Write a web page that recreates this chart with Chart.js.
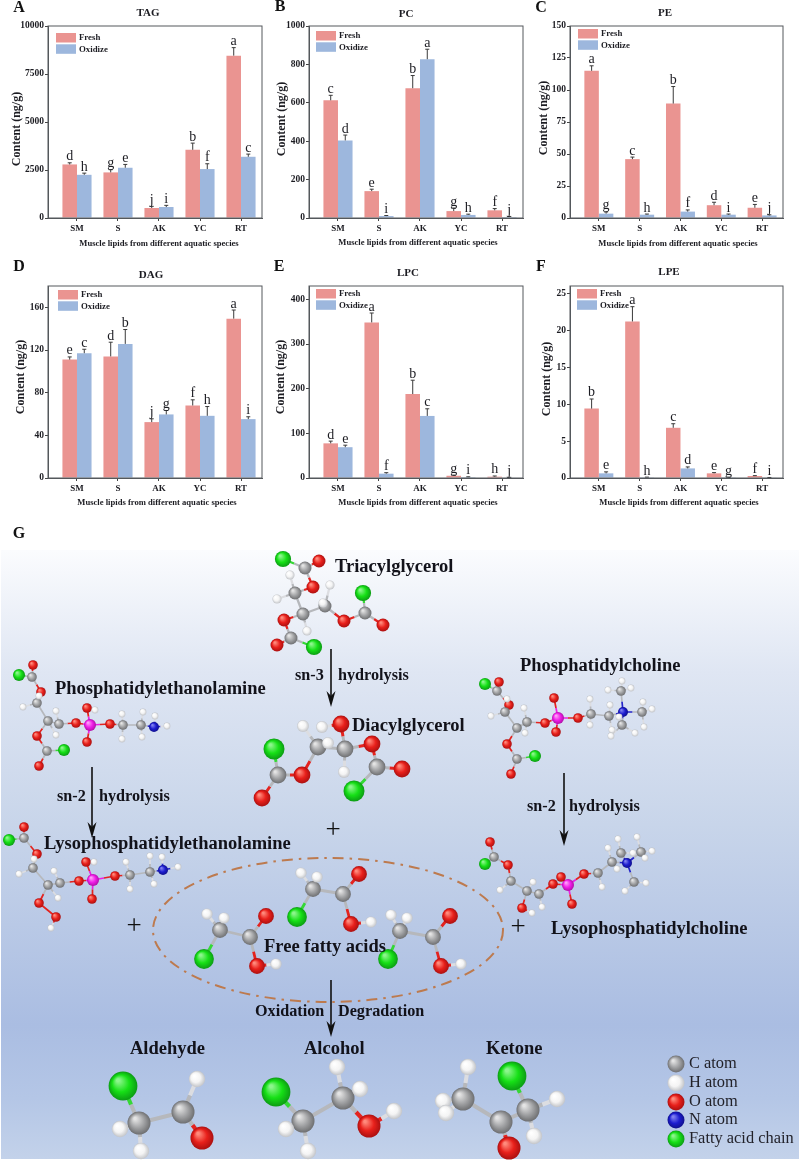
<!DOCTYPE html>
<html>
<head>
<meta charset="utf-8">
<title>Lipids</title>
<script src="https://cdn.jsdelivr.net/npm/chart.js@4/dist/chart.umd.js"></script>
<style>
  html, body { margin: 0; padding: 0; background: #fff; }
  #page { position: relative; width: 800px; height: 1161px; overflow: hidden; }
  canvas { position: absolute; }
  #schemeBg {
    position: absolute; left: 1px; top: 550px; width: 798px; height: 609px;
    background: linear-gradient(#fbfcfe 0%, #dfe6f3 20%, #c8d5ea 45%, #aabde2 78%, #b4c6e6 90%, #c3d2ea 100%);
  }
</style>
</head>
<body>
<div id="page">
  <div id="schemeBg"></div>
  <canvas id="panelA" width="270" height="255" style="left:0;top:0"></canvas>
  <canvas id="panelB" width="270" height="255" style="left:265px;top:0"></canvas>
  <canvas id="panelC" width="270" height="255" style="left:530px;top:0"></canvas>
  <canvas id="panelD" width="270" height="258" style="left:0;top:255px"></canvas>
  <canvas id="panelE" width="270" height="258" style="left:265px;top:255px"></canvas>
  <canvas id="panelF" width="270" height="258" style="left:530px;top:255px"></canvas>
  <canvas id="scheme" width="800" height="646" style="left:0;top:515px"></canvas>
</div>
<script>
// bar chart values
const species = ['SM', 'S', 'AK', 'YC', 'RT'];

const tagFresh = [2790, 2375, 520, 3553, 8457];
const tagOxidize = [2250, 2617, 572, 2548, 3189];
const tagFreshErr = [85, 140, 87, 347, 416];
const tagOxidizeErr = [87, 173, 87, 277, 139];
const tagFreshLetters = ['d', 'g', 'j', 'b', 'a'];
const tagOxidizeLetters = ['h', 'e', 'i', 'f', 'c'];

const pcFresh = [613, 140, 676, 36, 40];
const pcOxidize = [404, 10, 827, 16, 5];
const pcFreshErr = [26, 10, 66, 16, 9];
const pcOxidizeErr = [28, 3, 52, 4, 3];
const pcFreshLetters = ['c', 'e', 'b', 'g', 'f'];
const pcOxidizeLetters = ['d', 'i', 'a', 'h', 'j'];

const peFresh = [115, 46, 89.4, 10, 8];
const peOxidize = [3.4, 2.6, 5, 2.6, 2];
const peFreshErr = [3.9, 1.6, 13.3, 2.3, 2.6];
const peOxidizeErr = [1.3, 0.5, 1.3, 0.5, 0.5];
const peFreshLetters = ['a', 'c', 'b', 'd', 'e'];
const peOxidizeLetters = ['g', 'h', 'f', 'i', 'j'];

const dagFresh = [111, 114, 52.4, 68, 149.4];
const dagOxidize = [117, 125.7, 59.6, 58.3, 55.2];
const dagFreshErr = [2.5, 13.3, 3.1, 5.3, 8.1];
const dagOxidizeErr = [3.7, 13.5, 3.7, 8.7, 2.2];
const dagFreshLetters = ['e', 'd', 'j', 'f', 'a'];
const dagOxidizeLetters = ['c', 'b', 'g', 'h', 'i'];

const lpcFresh = [77.6, 348.5, 188, 5, 3];
const lpcOxidize = [69, 9.7, 139, 2, 1];
const lpcFreshErr = [5, 21, 31, 1.5, 1.5];
const lpcOxidizeErr = [4.5, 2.2, 16, 0.7, 0.5];
const lpcFreshLetters = ['d', 'a', 'b', 'g', 'h'];
const lpcOxidizeLetters = ['e', 'f', 'c', 'i', 'j'];

const lpeFresh = [9.4, 21.2, 6.8, 0.63, 0.27];
const lpeOxidize = [0.63, 0.1, 1.3, 0.1, 0.05];
const lpeFreshErr = [1.3, 2, 0.55, 0.1, 0.05];
const lpeOxidizeErr = [0.2, 0.02, 0.2, 0.02, 0.02];
const lpeFreshLetters = ['b', 'a', 'c', 'e', 'f'];
const lpeOxidizeLetters = ['e', 'h', 'd', 'g', 'i'];

// scheme G: atoms are [element, x, y] on the scheme's own axes, bonds are index pairs
const tagAtoms = [['F',283,559],['C',305,568],['O',319,561],['O',313,587],['C',295,593],['H',290,575],['H',277,599],['C',303,614],['H',307,631],['C',325,606],['H',323,603],['H',330,585],['O',344,621],['C',365,613],['F',363,593],['O',383,625],['O',284,620],['C',291,638],['O',277,645],['F',314,647]];
const tagBonds = [[0,1],[1,2],[1,3],[3,4],[4,5],[4,6],[4,7],[7,8],[7,9],[9,10],[9,11],[9,12],[12,13],[13,14],[13,15],[7,16],[16,17],[17,18],[17,19]];

const peAtoms = [['F',19,675],['C',32,677],['O',33,665],['O',41,692],['C',37,703],['H',39,696],['H',23,707],['C',48,721],['C',59,724],['H',56,711],['H',56,735],['O',76,723],['P',90,725],['O',87,708],['H',95,710],['O',87,742],['O',110,724],['C',123,725],['H',122,714],['H',122,739],['C',141,725],['H',143,712],['H',142,737],['N',154,727],['H',155,716],['H',167,726],['O',37,736],['C',47,751],['F',64,750],['O',39,766]];
const peBonds = [[0,1],[1,2],[1,3],[3,4],[4,5],[4,6],[4,7],[7,8],[8,9],[7,10],[8,11],[11,12],[12,13],[13,14],[12,15],[12,16],[16,17],[17,18],[17,19],[17,20],[20,21],[20,22],[20,23],[23,24],[23,25],[7,26],[26,27],[27,28],[27,29]];

const dagAtoms = [['C',318,747],['H',303,726],['C',345,749],['H',344,772],['H',328,743],['H',322,727],['O',341,724],['O',372,744],['C',377,767],['O',402,769],['F',354,791],['O',302,775],['C',278,775],['F',274,749],['O',262,798]];
const dagBonds = [[0,1],[0,2],[2,3],[0,4],[5,6],[2,6],[2,7],[7,8],[8,9],[8,10],[0,11],[11,12],[12,13],[12,14]];

const pcAtoms = [['F',485,684],['C',497,691],['O',499,682],['O',509,705],['H',507,699],['C',505,712],['H',491,716],['C',517,728],['C',527,722],['H',524,708],['H',525,733],['O',545,723],['P',558,718],['O',554,698],['O',556,732],['O',578,718],['C',591,714],['H',590,699],['H',590,725],['C',609,716],['H',610,705],['H',612,730],['H',611,736],['N',623,712],['C',621,691],['H',608,690],['H',622,681],['H',631,688],['C',642,712],['H',643,702],['H',652,709],['H',644,727],['C',622,725],['H',619,717],['H',635,733],['O',507,744],['C',517,759],['F',535,756],['O',511,774]];
const pcBonds = [[0,1],[1,2],[1,3],[3,5],[5,4],[5,6],[5,7],[7,8],[8,9],[8,10],[8,11],[11,12],[12,13],[12,14],[12,15],[15,16],[16,17],[16,18],[16,19],[19,20],[19,21],[19,23],[23,24],[24,25],[24,26],[24,27],[23,28],[28,29],[28,30],[28,31],[23,32],[32,22],[32,33],[32,34],[7,35],[35,36],[36,37],[36,38]];

const lpeAtoms = [['F',9,840],['C',24,838],['O',24,827],['O',37,854],['C',33,868],['H',34,859],['H',19,874],['C',48,885],['C',60,883],['H',54,871],['H',58,898],['O',79,881],['P',93,880],['O',86,862],['H',94,862],['O',92,899],['O',115,876],['C',130,875],['H',126,862],['H',130,889],['C',150,872],['H',150,856],['H',154,884],['N',163,870],['H',162,857],['H',178,867],['O',39,903],['O',56,917],['H',51,928]];
const lpeBonds = [[0,1],[1,2],[1,3],[3,4],[4,5],[4,6],[4,7],[7,8],[8,9],[7,10],[8,11],[11,12],[12,13],[13,14],[12,15],[12,16],[16,17],[17,18],[17,19],[17,20],[20,21],[20,22],[20,23],[23,24],[23,25],[7,26],[26,27],[27,28]];

const lpcAtoms = [['O',490,842],['C',494,857],['F',485,864],['O',508,865],['C',511,881],['H',500,890],['C',527,891],['H',533,882],['C',539,894],['H',542,907],['O',553,884],['P',568,885],['O',561,877],['O',572,904],['O',584,874],['C',598,873],['H',602,887],['H',608,848],['C',612,862],['H',617,869],['N',627,863],['C',621,853],['H',618,839],['H',633,853],['C',641,852],['H',637,837],['H',652,851],['H',645,858],['C',634,882],['H',625,891],['H',646,883],['O',522,908],['H',532,913]];
const lpcBonds = [[0,1],[1,2],[1,3],[3,4],[4,5],[4,6],[6,7],[6,8],[8,9],[8,10],[10,11],[11,12],[11,13],[11,14],[14,15],[15,16],[15,18],[18,17],[18,19],[18,20],[20,21],[21,22],[21,23],[20,24],[24,25],[24,26],[24,27],[20,28],[28,29],[28,30],[6,31],[31,32]];

const acidLeftAtoms = [['C',220,930],['H',207,914],['H',224,918],['C',250,937],['O',266,916],['O',257,966],['H',276,964],['F',204,959]];
const acidTopAtoms = [['C',313,889],['H',301,873],['H',317,877],['C',343,894],['O',359,874],['O',351,924],['H',371,922],['F',297,917]];
const acidRightAtoms = [['C',400,931],['H',391,915],['H',407,918],['C',433,937],['O',450,916],['O',441,966],['H',461,964],['F',388,959]];
const acidBonds = [[0,1],[0,2],[0,3],[3,4],[3,5],[5,6],[0,7]];

const aldehydeAtoms = [['F',123,1086],['C',139,1123],['H',120,1129],['H',141,1151],['C',183,1112],['H',197,1079],['O',202,1138]];
const aldehydeBonds = [[0,1],[1,2],[1,3],[1,4],[4,5],[4,6]];

const alcoholAtoms = [['F',276,1092],['C',303,1121],['H',286,1129],['H',308,1151],['C',343,1098],['H',337,1067],['H',360,1089],['O',369,1126],['H',394,1111]];
const alcoholBonds = [[0,1],[1,2],[1,3],[1,4],[4,5],[4,6],[4,7],[7,8]];

const ketoneAtoms = [['H',468,1067],['C',463,1099],['H',443,1101],['H',446,1113],['C',501,1122],['O',509,1148],['C',528,1110],['F',512,1076],['H',557,1099],['H',534,1136]];
const ketoneBonds = [[0,1],[1,2],[1,3],[1,4],[4,5],[4,6],[6,7],[6,8],[6,9]];

const keyAtoms = [['C',676,1064],['H',676,1083],['O',676,1102],['N',676,1120],['F',676,1139]];
const keyLabels = [['C atom',689,1064],['H atom',689,1083],['O atom',689,1102],['N atom',689,1120],['Fatty acid chain',689,1139]];

const schemeLabels = [
  ['Triacylglycerol',335,567], ['Phosphatidylethanolamine',55,689], ['Diacylglycerol',352,726],
  ['Phosphatidylcholine',520,666], ['Lysophosphatidylethanolamine',44,844], ['Free fatty acids',264,947],
  ['Lysophosphatidylcholine',551,929], ['Aldehyde',130,1049], ['Alcohol',304,1049], ['Ketone',486,1049],
];
const stepLabels = [
  ['sn-3',295,676], ['hydrolysis',338,676], ['sn-2',57,797], ['hydrolysis',99,797],
  ['sn-2',527,807], ['hydrolysis',569,807], ['Oxidation',255,1012], ['Degradation',338,1012],
];
const plusSigns = [[333,831],[134,927],[518,928]];
const arrows = [[331,649,707],[92,767,838],[564,773,846],[331,980,1037]];

const SERIF = '"Liberation Serif", "Times New Roman", serif';
const INK = '#1c1c22';
const FRESH = '#ea9491';
const OXIDIZE = '#9db7dd';

// plot boxes are in page pixels, the text spots too
const panels = [
  { id: 'panelA', name: 'A', left: 0, top: 0, box: [48, 26, 262, 218], ymax: 10000, step: 2500, title: 'TAG',
    fresh: tagFresh, oxidize: tagOxidize, freshErr: tagFreshErr, oxidizeErr: tagOxidizeErr,
    freshLetters: tagFreshLetters, oxidizeLetters: tagOxidizeLetters,
    letterAt: [19, 8], titleAt: [148, 13.5], yTitleAt: [17, 129], xTitleAt: [159, 244], legendAt: [56, 33] },
  { id: 'panelB', name: 'B', left: 265, top: 0, box: [309, 26, 523, 218], ymax: 1000, step: 200, title: 'PC',
    fresh: pcFresh, oxidize: pcOxidize, freshErr: pcFreshErr, oxidizeErr: pcOxidizeErr,
    freshLetters: pcFreshLetters, oxidizeLetters: pcOxidizeLetters,
    letterAt: [280, 7], titleAt: [406, 14.5], yTitleAt: [282, 119], xTitleAt: [418, 243], legendAt: [316, 31] },
  { id: 'panelC', name: 'C', left: 530, top: 0, box: [570, 26, 783, 218], ymax: 150, step: 25, title: 'PE',
    fresh: peFresh, oxidize: peOxidize, freshErr: peFreshErr, oxidizeErr: peOxidizeErr,
    freshLetters: peFreshLetters, oxidizeLetters: peOxidizeLetters,
    letterAt: [541, 8], titleAt: [665, 13], yTitleAt: [544, 118], xTitleAt: [678, 243.5], legendAt: [578, 29] },
  { id: 'panelD', name: 'D', left: 0, top: 255, box: [48, 286, 262, 478], ymax: 180, step: 40, title: 'DAG',
    fresh: dagFresh, oxidize: dagOxidize, freshErr: dagFreshErr, oxidizeErr: dagOxidizeErr,
    freshLetters: dagFreshLetters, oxidizeLetters: dagOxidizeLetters,
    letterAt: [19, 267], titleAt: [151, 275.5], yTitleAt: [21, 377], xTitleAt: [157, 503], legendAt: [58, 290] },
  { id: 'panelE', name: 'E', left: 265, top: 255, box: [309, 286, 523, 478], ymax: 430, step: 100, title: 'LPC',
    fresh: lpcFresh, oxidize: lpcOxidize, freshErr: lpcFreshErr, oxidizeErr: lpcOxidizeErr,
    freshLetters: lpcFreshLetters, oxidizeLetters: lpcOxidizeLetters,
    letterAt: [279, 267], titleAt: [408, 273.5], yTitleAt: [281, 377], xTitleAt: [418, 502.5], legendAt: [316, 289] },
  { id: 'panelF', name: 'F', left: 530, top: 255, box: [570, 286, 783, 478], ymax: 26, step: 5, title: 'LPE',
    fresh: lpeFresh, oxidize: lpeOxidize, freshErr: lpeFreshErr, oxidizeErr: lpeOxidizeErr,
    freshLetters: lpeFreshLetters, oxidizeLetters: lpeOxidizeLetters,
    letterAt: [541, 267], titleAt: [669, 272.5], yTitleAt: [547, 379], xTitleAt: [679, 503], legendAt: [577, 289] },
];

function drawText(ctx, text, x, y, font, color) {
  ctx.font = font;
  ctx.fillStyle = color || INK;
  ctx.textBaseline = 'middle';
  ctx.fillText(text, x, y);
}

// error whiskers, significance letters, frame, legend and panel captions
const panelDecor = {
  id: 'panelDecor',
  afterDatasetsDraw(chart, args, p) {
    const ctx = chart.ctx;
    const yScale = chart.scales.y;
    const area = chart.chartArea;
    ctx.save();
    chart.data.datasets.forEach((ds, i) => {
      const bars = chart.getDatasetMeta(i).data;
      bars.forEach((bar, k) => {
        const topPx = yScale.getPixelForValue(ds.data[k].y + ds.errors[k]);
        ctx.strokeStyle = '#3a3a3a';
        ctx.lineWidth = 1;
        ctx.beginPath();
        ctx.moveTo(bar.x, bar.y);
        ctx.lineTo(bar.x, topPx);
        ctx.moveTo(bar.x - 2, topPx);
        ctx.lineTo(bar.x + 2, topPx);
        ctx.stroke();
        ctx.textAlign = 'center';
        ctx.textBaseline = 'alphabetic';
        ctx.font = '14px ' + SERIF;
        ctx.fillStyle = INK;
        ctx.fillText(ds.letters[k], bar.x, topPx - 2.5);
      });
    });

    // frame round the plot
    ctx.strokeStyle = '#55585c';
    ctx.lineWidth = 1;
    ctx.strokeRect(area.left, area.top, area.right - area.left, area.bottom - area.top);

    // legend
    const lx = p.legendAt[0] - p.left;
    const ly = p.legendAt[1] - p.top;
    chart.data.datasets.forEach((ds, i) => {
      const rowY = ly + i * 11.3;
      ctx.fillStyle = ds.backgroundColor;
      ctx.fillRect(lx, rowY, 20, 9.5);
      ctx.textAlign = 'left';
      drawText(ctx, ds.label, lx + 23, rowY + 5, 'bold 8.8px ' + SERIF);
    });

    // captions
    ctx.textAlign = 'center';
    drawText(ctx, p.name, p.letterAt[0] - p.left, p.letterAt[1] - p.top, 'bold 16px ' + SERIF, '#111');
    drawText(ctx, p.title, p.titleAt[0] - p.left, p.titleAt[1] - p.top, 'bold 11px ' + SERIF);
    drawText(ctx, 'Muscle lipids from different aquatic species', p.xTitleAt[0] - p.left, p.xTitleAt[1] - p.top, 'bold 8.6px ' + SERIF);
    ctx.translate(p.yTitleAt[0] - p.left, p.yTitleAt[1] - p.top);
    ctx.rotate(-Math.PI / 2);
    drawText(ctx, 'Content (ng/g)', 0, 0, 'bold 12px ' + SERIF);
    ctx.restore();
  },
};

function barData(values) {
  return values.map((v, i) => ({ x: i + 1, y: v }));
}

panels.forEach((p) => {
  const canvas = document.getElementById(p.id);
  new Chart(canvas.getContext('2d'), {
    type: 'bar',
    data: {
      datasets: [
        { label: 'Fresh', data: barData(p.fresh), errors: p.freshErr, letters: p.freshLetters, backgroundColor: FRESH },
        { label: 'Oxidize', data: barData(p.oxidize), errors: p.oxidizeErr, letters: p.oxidizeLetters, backgroundColor: OXIDIZE },
      ],
    },
    plugins: [panelDecor],
    options: {
      responsive: false,
      animation: false,
      layout: {
        autoPadding: false,
        padding: {
          left: 0,
          bottom: 0,
          top: p.box[1] - p.top,
          right: p.left + canvas.width - p.box[2],
        },
      },
      datasets: { bar: { barPercentage: 1, categoryPercentage: 0.71 } },
      plugins: { legend: { display: false }, title: { display: false }, tooltip: { enabled: false }, panelDecor: p },
      scales: {
        x: {
          type: 'linear',
          offset: false,
          min: 0.293,
          max: 5.512,
          afterFit(scale) { scale.height = p.top + canvas.height - p.box[3]; },
          afterBuildTicks(scale) { scale.ticks = species.map((s, i) => ({ value: i + 1 })); },
          border: { color: '#55585c' },
          grid: { offset: false, drawOnChartArea: false, tickLength: 3, color: '#444' },
          ticks: {
            autoSkip: false,
            maxRotation: 0,
            padding: 2,
            color: INK,
            font: { family: SERIF, size: 9, weight: 'bold' },
            callback: (v) => species[v - 1],
          },
        },
        y: {
          min: 0,
          max: p.ymax,
          afterFit(scale) { scale.width = p.box[0] - p.left; },
          border: { color: '#55585c' },
          grid: { drawOnChartArea: false, tickLength: 3, color: '#444' },
          ticks: {
            stepSize: p.step,
            includeBounds: false,
            padding: 1,
            color: INK,
            font: { family: SERIF, size: 9.5, weight: 'bold' },
            callback: (v) => v,
          },
        },
      },
    },
  });
});

// scheme G
const bondColors = { C: '#b6b8bc', H: '#dcdde1', O: '#e4231f', N: '#2424c8', P: '#ea22e4', F: '#35d835' };
const atomColors = {
  C: ['#e4e4e4', '#a2a3a5', '#6e6f71'],
  H: ['#ffffff', '#f4f4f4', '#c2c4c8'],
  O: ['#ff8a7c', '#e8201b', '#ab1010'],
  N: ['#7f7ff0', '#1c1ccf', '#10108c'],
  P: ['#ff9cf8', '#f01ee8', '#b010a8'],
  F: ['#8cf58c', '#16e016', '#0c9c14'],
};
const atomSizes = { C: 4.8, H: 3.4, O: 4.8, N: 5, P: 6, F: 6 };
const KEY_RADIUS = 8.5;

const molecules = [
  { atoms: tagAtoms, bonds: tagBonds, size: 1.35 },
  { atoms: peAtoms, bonds: peBonds, size: 1 },
  { atoms: dagAtoms, bonds: dagBonds, size: 1.75 },
  { atoms: pcAtoms, bonds: pcBonds, size: 1 },
  { atoms: lpeAtoms, bonds: lpeBonds, size: 1 },
  { atoms: lpcAtoms, bonds: lpcBonds, size: 1 },
  { atoms: acidLeftAtoms, bonds: acidBonds, size: 1.65 },
  { atoms: acidTopAtoms, bonds: acidBonds, size: 1.65 },
  { atoms: acidRightAtoms, bonds: acidBonds, size: 1.65 },
  { atoms: aldehydeAtoms, bonds: aldehydeBonds, size: 2.4 },
  { atoms: alcoholAtoms, bonds: alcoholBonds, size: 2.4 },
  { atoms: ketoneAtoms, bonds: ketoneBonds, size: 2.4 },
];

function atomFill(c) {
  if (!c.raw) return '#999';
  const shades = atomColors[c.raw.el];
  const xPx = c.chart.scales.x.getPixelForValue(c.raw.x);
  const yPx = c.chart.scales.y.getPixelForValue(c.raw.y);
  // the bubble controller resolves options once before the layout exists
  if (!Number.isFinite(xPx) || !Number.isFinite(yPx)) return shades[1];
  const r = c.raw.r;
  const g = c.chart.ctx.createRadialGradient(xPx - r * 0.35, yPx - r * 0.4, r * 0.1, xPx, yPx, r);
  g.addColorStop(0, shades[0]);
  g.addColorStop(0.55, shades[1]);
  g.addColorStop(1, shades[2]);
  return g;
}

function bondSets(mol) {
  const byElement = {};
  mol.bonds.forEach(([a, b]) => {
    const [ea, xa, ya] = mol.atoms[a];
    const [eb, xb, yb] = mol.atoms[b];
    const mx = (xa + xb) / 2;
    const my = (ya + yb) / 2;
    (byElement[ea] = byElement[ea] || []).push({ x: xa, y: ya }, { x: mx, y: my }, { x: null, y: null });
    (byElement[eb] = byElement[eb] || []).push({ x: xb, y: yb }, { x: mx, y: my }, { x: null, y: null });
  });
  return Object.keys(byElement).map((el) => ({
    type: 'line',
    data: byElement[el],
    borderColor: bondColors[el],
    borderWidth: 1.7 * mol.size,
    pointRadius: 0,
    spanGaps: false,
    order: 3,
  }));
}

function atomSet(atoms, radiusOf) {
  return {
    type: 'bubble',
    data: atoms.map(([el, x, y]) => ({ x, y, r: radiusOf(el), el })),
    backgroundColor: atomFill,
    borderWidth: 0,
    order: 1,
  };
}

const arrowSets = arrows.map(([x, y0, y1]) => ({
  type: 'line',
  data: [{ x, y: y0 }, { x, y: y1 - 6 }],
  borderColor: '#111',
  borderWidth: 1.6,
  pointRadius: 0,
  order: 2,
}));

const schemeDecor = {
  id: 'schemeDecor',
  afterDatasetsDraw(chart) {
    const ctx = chart.ctx;
    const sx = chart.scales.x;
    const sy = chart.scales.y;
    ctx.save();

    // free fatty acid ellipse
    ctx.strokeStyle = '#bd7a4e';
    ctx.lineWidth = 2;
    ctx.setLineDash([11, 6, 2.5, 6]);
    ctx.beginPath();
    ctx.ellipse(sx.getPixelForValue(328), sy.getPixelForValue(930), 175, 72, 0, 0, Math.PI * 2);
    ctx.stroke();
    ctx.setLineDash([]);

    // arrow heads
    ctx.fillStyle = '#111';
    arrows.forEach(([x, , tip]) => {
      const px = sx.getPixelForValue(x);
      const py = sy.getPixelForValue(tip);
      ctx.beginPath();
      ctx.moveTo(px, py);
      ctx.lineTo(px - 4.5, py - 16);
      ctx.lineTo(px, py - 11);
      ctx.lineTo(px + 4.5, py - 16);
      ctx.closePath();
      ctx.fill();
    });

    ctx.textAlign = 'left';
    schemeLabels.forEach(([t, x, y]) => drawText(ctx, t, sx.getPixelForValue(x), sy.getPixelForValue(y), 'bold 18.5px ' + SERIF, '#12121a'));
    stepLabels.forEach(([t, x, y]) => drawText(ctx, t, sx.getPixelForValue(x), sy.getPixelForValue(y), 'bold 16.2px ' + SERIF, '#12121a'));
    keyLabels.forEach(([t, x, y]) => drawText(ctx, t, sx.getPixelForValue(x), sy.getPixelForValue(y), '16.4px ' + SERIF, '#22222a'));
    ctx.textAlign = 'center';
    plusSigns.forEach(([x, y]) => drawText(ctx, '+', sx.getPixelForValue(x), sy.getPixelForValue(y), '27px ' + SERIF, '#111'));
    drawText(ctx, 'G', sx.getPixelForValue(19), sy.getPixelForValue(534), 'bold 16px ' + SERIF, '#111');
    ctx.restore();
  },
};

new Chart(document.getElementById('scheme').getContext('2d'), {
  data: {
    datasets: [
      ...molecules.flatMap(bondSets),
      ...molecules.map((m) => atomSet(m.atoms, (el) => atomSizes[el] * m.size)),
      atomSet(keyAtoms, () => KEY_RADIUS),
      ...arrowSets,
    ],
  },
  plugins: [schemeDecor],
  options: {
    responsive: false,
    animation: false,
    clip: false,
    layout: { autoPadding: false, padding: 0 },
    plugins: { legend: { display: false }, tooltip: { enabled: false } },
    scales: {
      x: { type: 'linear', display: false, min: 0, max: 800 },
      y: { type: 'linear', display: false, min: 515, max: 1161, reverse: true },
    },
  },
});
</script>
</body>
</html>
